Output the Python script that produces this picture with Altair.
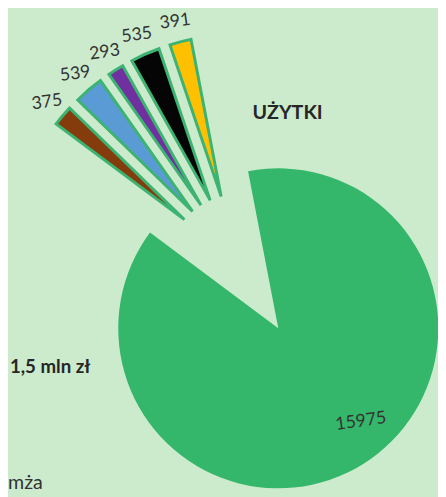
import altair as alt
import pandas as pd

# ---- data ----
categories = ["Grupa 1", "Grupa 2", "Grupa 3", "Grupa 4", "Grupa 5", "Grupa 6"]
values = [375, 539, 293, 535, 391, 15975]
colors = ["#843C0C", "#5B9BD5", "#7030A0", "#050505", "#FFC000", "#34B76A"]
order = [1, 2, 3, 4, 5, 6]

notes = ["UŻYTKI", "1,5 mln zł", "mża"]

# ---- layout constants ----
W, H = 438, 489
CX, CY = 236, 259          # pie centre (chart px)
EXPLODE = 74               # explosion distance of every slice
R = 163                    # outer radius
START = -0.930             # start angle (rad, clockwise from 12 o'clock)
LR_OUT, LR_IN = 184, 127   # label distances from slice apex
IN_SHIFT = -0.165          # angular shift of the inside label (rad)
BG = "#CCEBCD"

df = pd.DataFrame({"cat": categories, "value": values, "ord": order})

base = alt.Chart(df).transform_joinaggregate(
    total="sum(value)"
).transform_window(
    cum="sum(value)", sort=[alt.SortField("ord")], frame=[None, 0]
).transform_calculate(
    a0=f"{START} + 2*PI*(datum.cum - datum.value)/datum.total",
    a1=f"{START} + 2*PI*datum.cum/datum.total",
    big="datum.value/datum.total > 0.5",
).transform_calculate(
    mid="(datum.a0 + datum.a1)/2"
).transform_calculate(
    cx=f"{CX} + {EXPLODE}*sin(datum.mid)",
    cy=f"{CY} - {EXPLODE}*cos(datum.mid)",
    lr=f"datum.big ? {LR_IN} : {LR_OUT}",
    la=f"datum.big ? datum.mid + {IN_SHIFT} : datum.mid",
).transform_calculate(
    lx="datum.cx + datum.lr*sin(datum.la)",
    ly="datum.cy - datum.lr*cos(datum.la)",
)

arcs = base.mark_arc(outerRadius=R, stroke="#3CB371").encode(
    x=alt.X("cx:Q", scale=None, axis=None),
    y=alt.Y("cy:Q", scale=None, axis=None),
    theta=alt.Theta("a0:Q", scale=None),
    theta2=alt.Theta2("a1:Q"),
    color=alt.Color("cat:N", scale=alt.Scale(domain=categories, range=colors), legend=None),
    strokeWidth=alt.condition("datum.big", alt.value(0), alt.value(3)),
    order=alt.Order("ord:Q"),
)

labels = base.mark_text(
    font="Lato", fontSize=18, color="#333333", angle=352, align="center", baseline="middle"
).encode(
    x=alt.X("lx:Q", scale=None, axis=None),
    y=alt.Y("ly:Q", scale=None, axis=None),
    text=alt.Text("value:Q", format="d"),
)

ndf = pd.DataFrame({
    "t": notes,
    "nx": [249, 84, 0],
    "ny": [109, 367, 485],
})
note_uz = alt.Chart(ndf.iloc[[0]]).mark_text(
    font="Lato", fontSize=20, fontWeight="bold", color="#262626", align="left", baseline="alphabetic"
).encode(x=alt.X("nx:Q", scale=None, axis=None), y=alt.Y("ny:Q", scale=None, axis=None), text="t:N")
note_mln = alt.Chart(ndf.iloc[[1]]).mark_text(
    font="Lato", fontSize=19, fontWeight="bold", color="#262626", align="right", baseline="alphabetic"
).encode(x=alt.X("nx:Q", scale=None, axis=None), y=alt.Y("ny:Q", scale=None, axis=None), text="t:N")
note_mza = alt.Chart(ndf.iloc[[2]]).mark_text(
    font="Lato", fontSize=20, color="#333333", align="left", baseline="alphabetic"
).encode(x=alt.X("nx:Q", scale=None, axis=None), y=alt.Y("ny:Q", scale=None, axis=None), text="t:N")

chart = alt.layer(arcs, labels, note_uz, note_mln, note_mza).properties(
    width=W, height=H, background=BG, padding=0, autosize="none"
).configure_view(stroke=None)

chart.save("out.html", embed_options={"renderer": "svg", "actions": False})
